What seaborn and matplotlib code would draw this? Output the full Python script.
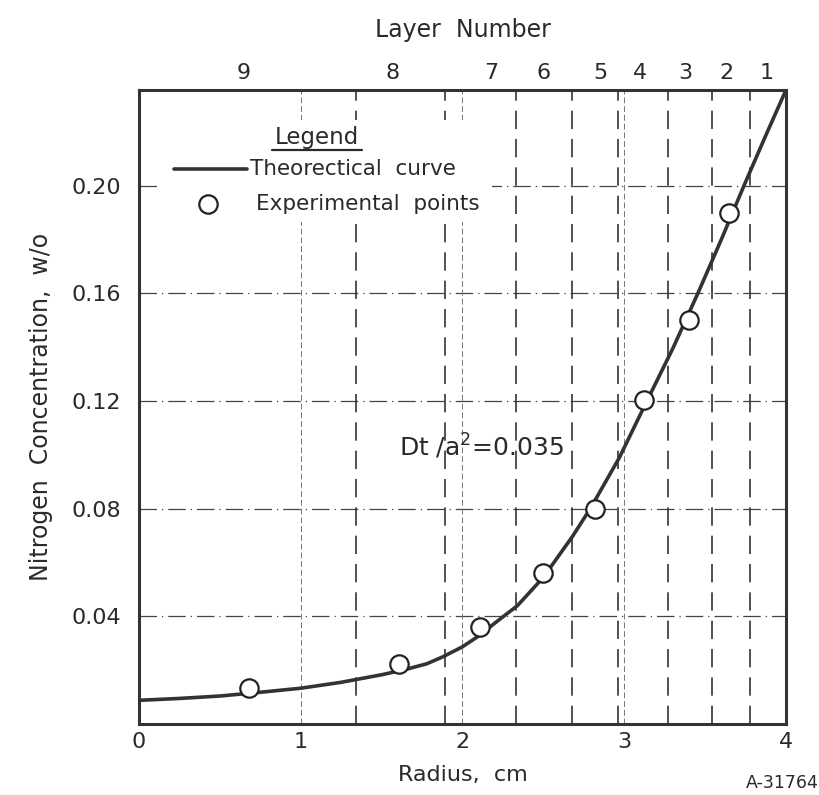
import matplotlib
matplotlib.use("Agg")
import matplotlib.pyplot as plt
import seaborn as sns
import pandas as pd
from matplotlib.patches import Rectangle

# ---------------- data ----------------
curve_x = [0.0, 0.25, 0.5, 0.75, 1.0, 1.25, 1.5, 1.65, 1.78, 1.88, 2.0, 2.1, 2.2, 2.34,
           2.5, 2.68, 2.79, 2.97, 3.14, 3.3, 3.455, 3.6, 3.74, 3.87, 4.0]
curve_y = [0.0088, 0.0095, 0.0104, 0.0118, 0.0133, 0.0155, 0.0183, 0.0203, 0.0224,
           0.0250, 0.0287, 0.0327, 0.0375, 0.0440, 0.0545, 0.0697, 0.0800, 0.0990,
           0.1200, 0.1395, 0.1600, 0.1800, 0.2000, 0.2180, 0.2356]
exp_x = [0.68, 1.61, 2.11, 2.50, 2.82, 3.12, 3.40, 3.65]
exp_y = [0.0133, 0.0222, 0.0360, 0.0560, 0.0799, 0.1203, 0.1502, 0.1900]
layer_bounds = [1.34, 1.89, 2.33, 2.68, 2.96, 3.27, 3.54, 3.78]
layer_label_pos = [0.65, 1.57, 2.18, 2.50, 2.85, 3.10, 3.38, 3.63, 3.88]
layer_labels = ["9", "8", "7", "6", "5", "4", "3", "2", "1"]
x_ticks = [0, 1, 2, 3, 4]
x_tick_labels = ["0", "1", "2", "3", "4"]
y_ticks = [0.04, 0.08, 0.12, 0.16, 0.20]
y_tick_labels = ["0.04", "0.08", "0.12", "0.16", "0.20"]

# ---------------- style ----------------
sns.set_theme(style="white")
plt.rcParams['font.family'] = ['DejaVu Sans']
ink = "#2a2a2a"

fig = plt.figure(figsize=(8.2, 7.95), dpi=100)
ax = fig.add_axes([0.1695, 0.0893, 0.789, 0.7975])
ax.set_xlim(0, 4)
ax.set_ylim(0, 0.2356)

# grid lines
for yv in y_ticks:
    ax.axhline(yv, color="#444444", lw=0.9, dashes=(14, 4, 1, 4), zorder=1)
for xv in x_ticks[1:-1]:
    ax.axvline(xv, color="#777777", lw=0.7, dashes=(6, 3), zorder=1)
for xb in layer_bounds:
    ax.axvline(xb, color="#333333", lw=1.2, dashes=(11, 6), zorder=1)

# legend white box
ax.add_patch(Rectangle((0.13, 0.1865), 2.05, 0.038, facecolor="white",
                       edgecolor="none", zorder=1.5))

df_curve = pd.DataFrame({"r": curve_x, "c": curve_y})
df_exp = pd.DataFrame({"r": exp_x, "c": exp_y})
sns.lineplot(data=df_curve, x="r", y="c", ax=ax, color="#333333", lw=2.6,
             sort=True, zorder=3)
sns.scatterplot(data=df_exp, x="r", y="c", ax=ax, marker="o", s=175,
                facecolor="white", edgecolor="#222222", linewidth=1.6, zorder=4)

# ticks
ax.set_xticks(x_ticks)
ax.set_xticklabels(x_tick_labels, fontsize=16, color=ink)
ax.set_yticks(y_ticks)
ax.set_yticklabels(y_tick_labels, fontsize=16, color=ink)
ax.tick_params(axis="x", length=0, pad=6)
ax.tick_params(axis="y", length=0, pad=13)
ax.set_xlabel("Radius,  cm", fontsize=16, color=ink, labelpad=9)
ax.set_ylabel("Nitrogen  Concentration,  w/o", fontsize=17, color=ink, labelpad=13)

for sp in ax.spines.values():
    sp.set_color("#333333")
    sp.set_linewidth(2.2)
    sp.set_visible(True)

# top axis: layer numbers
top = ax.secondary_xaxis("top")
top.set_xticks(layer_label_pos)
top.set_xticklabels(layer_labels, fontsize=16, color=ink)
top.tick_params(length=0, pad=5)
top.set_xlabel("Layer  Number", fontsize=17, color=ink, labelpad=19)
top.spines["top"].set_visible(False)

# legend (manual)
ax.text(1.10, 0.2178, "Legend", fontsize=16.5, color=ink, ha="center", va="center", zorder=5)
ax.plot([0.82, 1.38], [0.2134, 0.2134], color=ink, lw=1.6, zorder=5)
ax.plot([0.216, 0.668], [0.2063, 0.2063], color="#333333", lw=2.6, zorder=5)
ax.text(0.686, 0.2063, "Theorectical  curve", fontsize=15.5, color=ink,
        ha="left", va="center", zorder=5)
ax.scatter([0.427], [0.1933], s=175, facecolor="white", edgecolor="#222222",
           linewidth=1.6, zorder=5)
ax.text(0.723, 0.1933, "Experimental  points", fontsize=15.5, color=ink,
        ha="left", va="center", zorder=5)

# annotation
ax.text(1.61, 0.103, "Dt /a$^2$=0.035", fontsize=18, color=ink,
        ha="left", va="center", zorder=5)

fig.text(0.954, 0.015, "A-31764", fontsize=12.5, color=ink, ha="center", va="center")

fig.savefig("out.png", dpi=100, facecolor="white")
